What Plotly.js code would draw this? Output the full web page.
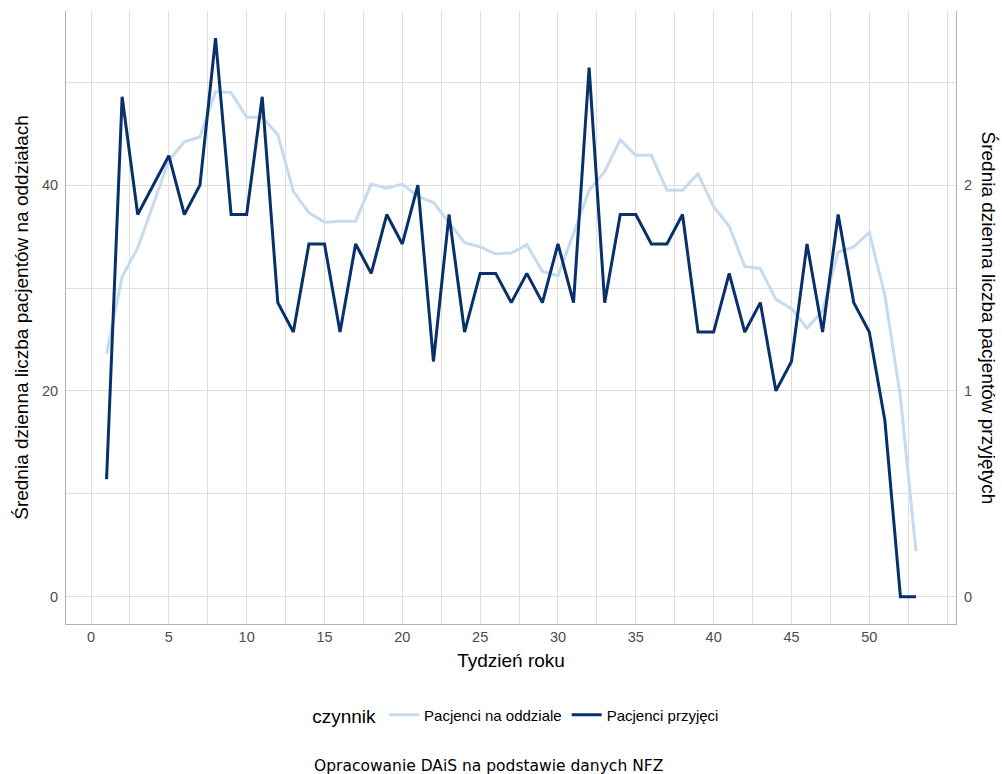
<!DOCTYPE html>
<html>
<head>
<meta charset="utf-8">
<script src="https://cdn.plot.ly/plotly-3.0.1.min.js"></script>
<style>html,body{margin:0;padding:0;background:#fff;}#chart{width:1002px;height:774px;}</style>
</head>
<body>
<div id="chart"></div>
<script>
// Week of year
const weeks = [1,2,3,4,5,6,7,8,9,10,11,12,13,14,15,16,17,18,19,20,21,22,23,24,25,26,27,28,29,30,31,32,33,34,35,36,37,38,39,40,41,42,43,44,45,46,47,48,49,50,51,52,53];
// Average daily number of patients on wards (left axis)
const onWard = [23.6,31.1,33.9,38.1,42.4,44.2,44.7,49.1,49.0,46.6,46.6,44.9,39.4,37.3,36.4,36.5,36.5,40.1,39.7,40.1,38.9,38.3,36.4,34.4,34.0,33.3,33.4,34.2,31.6,31.2,35.3,39.5,41.3,44.4,42.9,42.9,39.5,39.5,41.1,37.9,36.0,32.1,31.9,28.9,28.0,26.1,27.8,33.5,34.0,35.4,29.3,19.4,4.4];
// Average daily number of admitted patients (right axis)
const admitted = [0.571,2.429,1.857,2.000,2.143,1.857,2.000,2.714,1.857,1.857,2.429,1.429,1.286,1.714,1.714,1.286,1.714,1.571,1.857,1.714,2.000,1.143,1.857,1.286,1.571,1.571,1.429,1.571,1.429,1.714,1.429,2.571,1.429,1.857,1.857,1.714,1.714,1.857,1.286,1.286,1.571,1.286,1.429,1.000,1.143,1.714,1.286,1.857,1.429,1.286,0.857,0,0];
const seriesNames = ['Pacjenci na oddziale','Pacjenci przyjęci'];
const xTicks = [0,5,10,15,20,25,30,35,40,45,50];
const yLeftTicks = [0,20,40];
const yRightTicks = [0,1,2];

const grid = '#dedede';
const FF = 'Liberation Sans, Arial, sans-serif';
const tickFont = {family:FF, size:14.5, color:'#4d4d4d'};
const titleFont = {family:FF, size:19, color:'#000'};

const traces = [
  {x:weeks, y:onWard, type:'scatter', mode:'lines', name:seriesNames[0],
   line:{color:'#c6dbef', width:3}, yaxis:'y'},
  {x:weeks, y:admitted, type:'scatter', mode:'lines', name:seriesNames[1],
   line:{color:'#08306b', width:3}, yaxis:'y2'}
];

const layout = {
  width:1002, height:774,
  margin:{l:66, r:46, t:11, b:150},
  paper_bgcolor:'#fff', plot_bgcolor:'#fff',
  showlegend:true,
  legend:{orientation:'h', x:0.507, xanchor:'center', y:-0.15, yanchor:'middle',
    title:{text:'czynnik', side:'left', font:{family:FF, size:19, color:'#000'}},
    font:{family:FF, size:15, color:'#000'}, itemwidth:30, tracegroupgap:0},
  xaxis:{range:[-1.606,55.57], tickvals:xTicks, ticktext:xTicks.map(String),
    showgrid:true, gridcolor:grid, gridwidth:1, zeroline:false,
    minor:{dtick:2.5, tick0:0, showgrid:true, gridcolor:grid, gridwidth:1},
    showline:true, linecolor:'#b3b3b3', linewidth:1, ticks:'', tickfont:tickFont,
    title:{text:'Tydzień roku', font:titleFont, standoff:9}, automargin:false},
  yaxis:{range:[-2.65,56.92], tickvals:yLeftTicks, ticktext:yLeftTicks.map(String),
    showgrid:true, gridcolor:grid, gridwidth:1, zeroline:false,
    minor:{dtick:10, tick0:0, showgrid:true, gridcolor:grid, gridwidth:1},
    showline:true, linecolor:'#b3b3b3', linewidth:1, ticks:'', tickfont:tickFont, ticklabelstandoff:4,
    title:{text:'Średnia dzienna liczba pacjentów na oddziałach', font:titleFont, standoff:8}, automargin:false},
  yaxis2:{range:[-0.1325,2.846], overlaying:'y', side:'right', tickvals:yRightTicks, ticktext:yRightTicks.map(String),
    showgrid:false, zeroline:false, showline:true, linecolor:'#b3b3b3', linewidth:1, ticks:'', tickfont:tickFont, ticklabelstandoff:4, automargin:false},
  annotations:[
    {text:'Średnia dzienna liczba pacjentów przyjętych', xref:'paper', yref:'paper', x:1.0, xshift:32, y:0.5,
     xanchor:'center', yanchor:'middle', textangle:90, showarrow:false, font:titleFont},
    {text:'Opracowanie DAiS na podstawie danych NFZ', xref:'paper', yref:'paper', x:0.475, y:-0.2316,
     xanchor:'center', yanchor:'middle', showarrow:false,
     font:{family:'DejaVu Sans, sans-serif', size:15.5, color:'#000'}}
  ]
};

Plotly.newPlot('chart', traces, layout, {displayModeBar:false, staticPlot:true});
</script>
</body>
</html>
